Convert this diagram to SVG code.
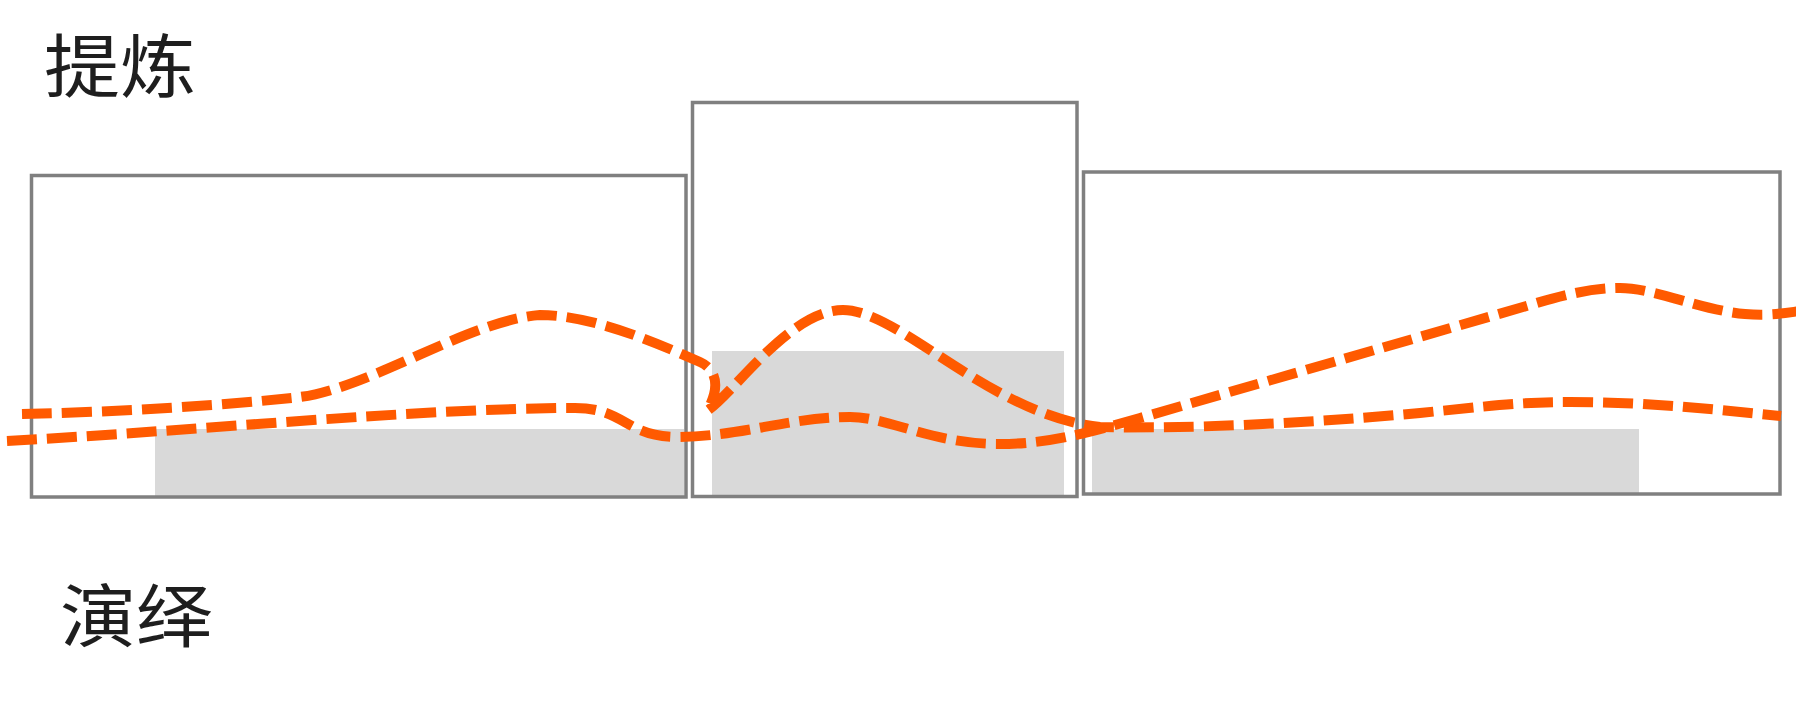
<svg xmlns="http://www.w3.org/2000/svg" width="1796" height="707" viewBox="0 0 1796 707">
  <style>
    .frame { fill: none; stroke: #808080; stroke-width: 3.5; }
    .band { fill: #d9d9d9; stroke: none; }
    .label { font-family: "Noto Sans CJK SC", "Noto Sans", sans-serif; font-size: 76px; font-weight: 400; fill: #1e1e1e; }
    .wave { fill: none; stroke: #ff5a00; stroke-width: 10; stroke-dasharray: 30 10; stroke-linejoin: round; }
  </style>
  <rect width="1796" height="707" fill="#ffffff"/>
  <g id="label-tilian" transform="translate(44 92) scale(1 0.92)">
    <text class="label" x="0" y="0">提炼</text>
  </g>
  <g id="box-left">
    <rect class="band" x="155" y="429" width="529" height="68"/>
    <rect class="frame" x="31.5" y="175.5" width="654.5" height="321.5"/>
  </g>
  <g id="box-middle">
    <rect class="band" x="712" y="351" width="352" height="146"/>
    <rect class="frame" x="692.5" y="102.5" width="384.5" height="394"/>
  </g>
  <g id="box-right">
    <rect class="band" x="1092" y="429" width="547" height="64"/>
    <rect class="frame" x="1083.5" y="172" width="696.5" height="322"/>
  </g>
  <g id="label-yanyi" transform="translate(60 642) scale(1 0.92)">
    <text class="label" x="0" y="0">演绎</text>
  </g>
  <g id="curves">
    <path class="wave" d="M22 414 C120 412 230 405 300 397 C370 388 470 320 540 315 C590 315 650 340 700 362 C720 371 718 392 707 411 C735 392 790 310 843 310 C900 310 990 415 1100 427 C1180 429 1300 424 1420 413 C1490 406 1520 402 1570 402 C1650 402 1720 410 1781 416"/>
    <path class="wave" d="M7 441 C180 432 420 408 575 408 C625 408 625 436 675 437 C740 437 790 417 850 417 C890 417 930 444 1000 444 C1050 444 1090 432 1140 418 L1530 305 C1570 293 1595 288 1620 288 C1655 288 1700 310 1745 314 C1770 316 1785 313 1800 311"/>
  </g>
</svg>
